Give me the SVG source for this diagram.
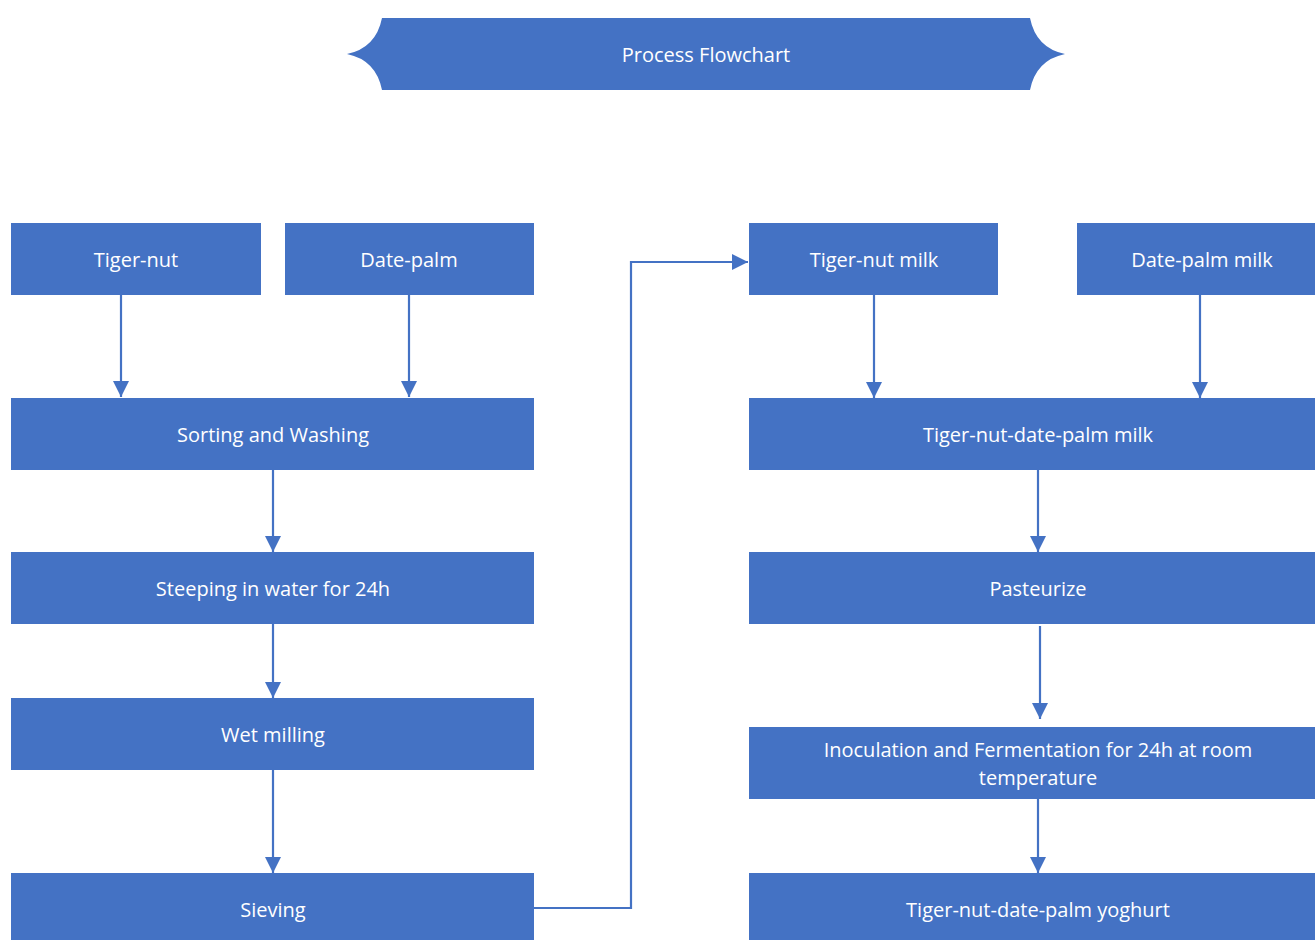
<svg xmlns="http://www.w3.org/2000/svg" width="1315" height="940" viewBox="0 0 1315 940">
<style>
.box{fill:#4472C4}
.t{fill:#fff;font-family:"Open Sans","Liberation Sans",sans-serif;font-size:20px;text-anchor:middle;dominant-baseline:central}
.c{fill:none;stroke:#4472C4;stroke-width:2.2}
</style>
<defs>
<marker id="ah" markerUnits="userSpaceOnUse" markerWidth="16" markerHeight="16" viewBox="0 0 16 16" refX="16" refY="8" orient="auto">
<path d="M0,0 L16,8 L0,16 Z" fill="#4472C4"/>
</marker>
</defs>
<rect width="1315" height="940" fill="#fff"/>
<g id="title">
<path class="box" d="M382,18 L1030,18 Q1036,48 1065,54 Q1036,60 1030,90 L382,90 Q376,60 347,54 Q376,48 382,18 Z"/>
<text class="t" x="706" y="54">Process Flowchart</text>
</g>
<g id="tigernut"><rect class="box" x="11" y="223" width="250" height="72"/><text class="t" x="136" y="259">Tiger-nut</text></g>
<g id="datepalm"><rect class="box" x="285" y="223" width="249" height="72"/><text class="t" x="409" y="259">Date-palm</text></g>
<g id="sorting"><rect class="box" x="11" y="398" width="523" height="72"/><text class="t" x="273" y="434">Sorting and Washing</text></g>
<g id="steeping"><rect class="box" x="11" y="552" width="523" height="72"/><text class="t" x="273" y="588">Steeping in water for 24h</text></g>
<g id="wetmilling"><rect class="box" x="11" y="698" width="523" height="72"/><text class="t" x="273" y="734">Wet milling</text></g>
<g id="sieving"><rect class="box" x="11" y="873" width="523" height="72"/><text class="t" x="273" y="909">Sieving</text></g>
<g id="tigernutmilk"><rect class="box" x="749" y="223" width="249" height="72"/><text class="t" x="874" y="259">Tiger-nut milk</text></g>
<g id="datepalmmilk"><rect class="box" x="1077" y="223" width="245" height="72"/><text class="t" x="1202" y="259">Date-palm milk</text></g>
<g id="tndpmilk"><rect class="box" x="749" y="398" width="573" height="72"/><text class="t" x="1038" y="434">Tiger-nut-date-palm milk</text></g>
<g id="pasteurize"><rect class="box" x="749" y="552" width="573" height="72"/><text class="t" x="1038" y="588">Pasteurize</text></g>
<g id="inoculation"><rect class="box" x="749" y="727" width="573" height="72"/><text class="t" x="1038" y="749">Inoculation and Fermentation for 24h at room</text><text class="t" x="1038" y="777">temperature</text></g>
<g id="yoghurt"><rect class="box" x="749" y="873" width="573" height="72"/><text class="t" x="1038" y="909">Tiger-nut-date-palm yoghurt</text></g>
<g id="connectors">
<path class="c" marker-end="url(#ah)" d="M121,295 L121,397"/>
<path class="c" marker-end="url(#ah)" d="M409,295 L409,397"/>
<path class="c" marker-end="url(#ah)" d="M273,470 L273,552"/>
<path class="c" marker-end="url(#ah)" d="M273,624 L273,698"/>
<path class="c" marker-end="url(#ah)" d="M273,770 L273,873"/>
<path class="c" marker-end="url(#ah)" d="M534,908 L631,908 L631,262 L748,262"/>
<path class="c" marker-end="url(#ah)" d="M874,295 L874,398"/>
<path class="c" marker-end="url(#ah)" d="M1200,295 L1200,398"/>
<path class="c" marker-end="url(#ah)" d="M1038,470 L1038,552"/>
<path class="c" marker-end="url(#ah)" d="M1040,626 L1040,719"/>
<path class="c" marker-end="url(#ah)" d="M1038,799 L1038,873"/>
</g>
</svg>
